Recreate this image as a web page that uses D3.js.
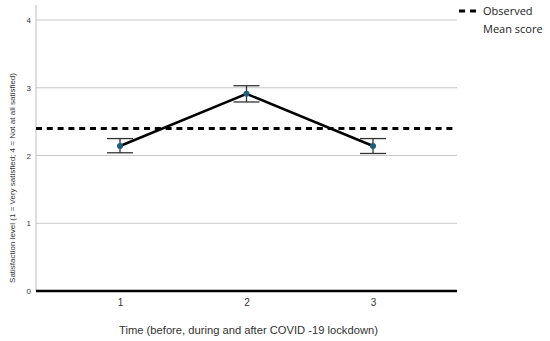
<!DOCTYPE html>
<html>
<head>
<meta charset="utf-8">
<script src="https://cdn.jsdelivr.net/npm/d3@7"></script>
<style>
  body { margin: 0; background: #fff; }
  text { font-family: "Liberation Sans", Arial, sans-serif; }
</style>
</head>
<body>
<svg id="chart" width="550" height="341"></svg>
<script>
const timePoints = ['1', '2', '3'];
const meanScores = [2.14, 2.91, 2.14];
const ciLower = [2.04, 2.79, 2.03];
const ciUpper = [2.25, 3.03, 2.25];
const observedMean = [2.40];
const yTicks = [0, 1, 2, 3, 4];

const svg = d3.select('#chart');
const plot = { left: 36, right: 457, top: 5, bottom: 291 };

const x = d3.scalePoint()
  .domain(timePoints)
  .range([plot.left, plot.right])
  .padding(0.664);

const y = d3.scaleLinear()
  .domain([0, 4])
  .range([plot.bottom, 20]);

// gridlines
svg.append('g')
  .selectAll('line')
  .data(yTicks.filter(d => d > 0))
  .enter()
  .append('line')
  .attr('x1', plot.left)
  .attr('x2', plot.right)
  .attr('y1', d => y(d))
  .attr('y2', d => y(d))
  .attr('stroke', '#c8c8c8')
  .attr('stroke-width', 1);

// y axis
const yAxis = d3.axisLeft(y)
  .tickValues(yTicks)
  .tickSize(0)
  .tickPadding(5)
  .tickFormat(d3.format('d'));
const yAxisEl = svg.append('g')
  .attr('transform', `translate(${plot.left},0)`)
  .call(yAxis);
yAxisEl.select('.domain').remove();
yAxisEl.selectAll('text')
  .style('font-size', '8px')
  .style('fill', '#333');

svg.append('line')
  .attr('x1', plot.left)
  .attr('x2', plot.left)
  .attr('y1', plot.top)
  .attr('y2', plot.bottom)
  .attr('stroke', '#bdbdbd')
  .attr('stroke-width', 1);

// x axis
const xAxis = d3.axisBottom(x)
  .tickSize(0)
  .tickPadding(8);
const xAxisEl = svg.append('g')
  .attr('transform', `translate(0,${plot.bottom})`)
  .call(xAxis);
xAxisEl.select('.domain').remove();
xAxisEl.selectAll('text')
  .style('font-size', '10px')
  .style('fill', '#333');

svg.append('line')
  .attr('x1', plot.left)
  .attr('x2', plot.right)
  .attr('y1', plot.bottom)
  .attr('y2', plot.bottom)
  .attr('stroke', '#000')
  .attr('stroke-width', 2.5);

// observed mean (dashed)
svg.append('line')
  .attr('x1', plot.left)
  .attr('x2', plot.right)
  .attr('y1', y(observedMean[0]))
  .attr('y2', y(observedMean[0]))
  .attr('stroke', '#000')
  .attr('stroke-width', 3)
  .attr('stroke-dasharray', '6,4.8');

const data = timePoints.map((t, i) => ({
  t, mean: meanScores[i], lo: ciLower[i], hi: ciUpper[i],
}));

// error bars
const capHalf = 13;
const bars = svg.append('g')
  .selectAll('g')
  .data(data)
  .enter()
  .append('g')
  .attr('stroke', '#333')
  .attr('stroke-width', 1.3);
bars.append('line')
  .attr('x1', d => x(d.t))
  .attr('x2', d => x(d.t))
  .attr('y1', d => y(d.lo))
  .attr('y2', d => y(d.hi));
bars.append('line')
  .attr('x1', d => x(d.t) - capHalf)
  .attr('x2', d => x(d.t) + capHalf)
  .attr('y1', d => y(d.lo))
  .attr('y2', d => y(d.lo));
bars.append('line')
  .attr('x1', d => x(d.t) - capHalf)
  .attr('x2', d => x(d.t) + capHalf)
  .attr('y1', d => y(d.hi))
  .attr('y2', d => y(d.hi));

// mean line
const line = d3.line()
  .x(d => x(d.t))
  .y(d => y(d.mean));
svg.append('path')
  .datum(data)
  .attr('d', line)
  .attr('fill', 'none')
  .attr('stroke', '#000')
  .attr('stroke-width', 2.5);

svg.append('g')
  .selectAll('circle')
  .data(data)
  .enter()
  .append('circle')
  .attr('cx', d => x(d.t))
  .attr('cy', d => y(d.mean))
  .attr('r', 3)
  .attr('fill', '#1f5c7a');

// axis titles
svg.append('text')
  .attr('x', (plot.left + plot.right) / 2 + 2)
  .attr('y', 334)
  .attr('text-anchor', 'middle')
  .style('font-size', '11.2px')
  .style('fill', '#333')
  .text('Time (before, during and after COVID -19 lockdown)');

svg.append('text')
  .attr('transform', 'translate(15,178) rotate(-90)')
  .attr('text-anchor', 'middle')
  .style('font-size', '8px')
  .style('fill', '#333')
  .text('Satisfaction level (1 = Very satisfied; 4 = Not at all satisfied)');

// legend
const legend = svg.append('g');
legend.append('line')
  .attr('x1', 459)
  .attr('x2', 477)
  .attr('y1', 11)
  .attr('y2', 11)
  .attr('stroke', '#000')
  .attr('stroke-width', 3)
  .attr('stroke-dasharray', '6,5');
legend.append('text')
  .attr('x', 483)
  .attr('y', 15)
  .style('font-family', '"Open Sans", sans-serif')
  .style('font-size', '11px')
  .style('fill', '#222')
  .text('Observed');
legend.append('text')
  .attr('x', 483)
  .attr('y', 33)
  .style('font-family', '"Open Sans", sans-serif')
  .style('font-size', '11px')
  .style('fill', '#222')
  .text('Mean score');
</script>
</body>
</html>
